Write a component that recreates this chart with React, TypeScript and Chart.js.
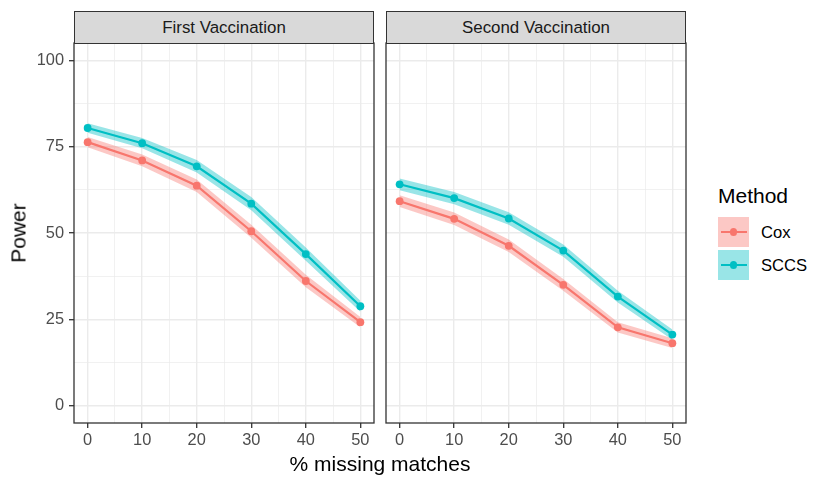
import React, { useEffect, useRef } from "react";
import { Chart, registerables } from "chart.js";

Chart.register(...registerables);

// ---- data ----
const missing = [0, 10, 20, 30, 40, 50];
const panelTitles = ["First Vaccination", "Second Vaccination"];
const methods = ["Cox", "SCCS"];

const coxFirst = [76.3, 71.0, 63.7, 50.5, 36.1, 24.2];
const coxFirstLo = [74.8, 69.3, 61.9, 48.6, 34.3, 22.7];
const coxFirstHi = [77.8, 72.7, 65.5, 52.4, 37.9, 25.7];

const sccsFirst = [80.4, 76.0, 69.3, 58.5, 43.9, 28.8];
const sccsFirstLo = [79.0, 74.5, 67.5, 56.6, 42.0, 27.2];
const sccsFirstHi = [81.8, 77.5, 71.1, 60.4, 45.8, 30.4];

const coxSecond = [59.2, 54.1, 46.3, 35.0, 22.7, 18.1];
const coxSecondLo = [57.5, 52.3, 44.5, 33.3, 21.2, 16.7];
const coxSecondHi = [60.9, 55.9, 48.1, 36.7, 24.2, 19.5];

const sccsSecond = [64.1, 60.1, 54.2, 44.9, 31.6, 20.6];
const sccsSecondLo = [62.4, 58.3, 52.4, 43.1, 29.9, 19.1];
const sccsSecondHi = [65.8, 61.9, 56.0, 46.7, 33.3, 22.1];

const xTicks = [0, 5, 10, 15, 20, 25, 30, 35, 40, 45, 50];
const xMajor = [0, 10, 20, 30, 40, 50];
const yTicks = [0, 12.5, 25, 37.5, 50, 62.5, 75, 87.5, 100];
const yMajor = [0, 25, 50, 75, 100];

const COX = "#F8766D";
const SCCS = "#00BFC4";
const COX_FILL = "rgba(248,118,109,0.4)";
const SCCS_FILL = "rgba(0,191,196,0.4)";
const FONT = "'Liberation Sans', Arial, Helvetica, sans-serif";

type Series = { vals: number[]; lo: number[]; hi: number[] };

function pts(v: number[]) {
  return missing.map((x, i) => ({ x, y: v[i] }));
}

function buildDatasets(cox: Series, sccs: Series) {
  return [
    {
      label: methods[0],
      data: pts(cox.vals),
      borderColor: COX,
      backgroundColor: COX,
      borderWidth: 2.2,
      pointRadius: 3.9,
      pointBorderWidth: 0,
      pointBackgroundColor: COX,
      fill: false,
      tension: 0,
      order: 0,
    },
    {
      label: methods[1],
      data: pts(sccs.vals),
      borderColor: SCCS,
      backgroundColor: SCCS,
      borderWidth: 2.2,
      pointRadius: 3.9,
      pointBorderWidth: 0,
      pointBackgroundColor: SCCS,
      fill: false,
      tension: 0,
      order: 1,
    },
    {
      label: "cox hi",
      data: pts(cox.hi),
      borderWidth: 0,
      borderColor: "rgba(0,0,0,0)",
      pointRadius: 0,
      backgroundColor: COX_FILL,
      fill: "+1",
      tension: 0,
      order: 5,
    },
    {
      label: "cox lo",
      data: pts(cox.lo),
      borderWidth: 0,
      borderColor: "rgba(0,0,0,0)",
      pointRadius: 0,
      fill: false,
      tension: 0,
      order: 5,
    },
    {
      label: "sccs hi",
      data: pts(sccs.hi),
      borderWidth: 0,
      borderColor: "rgba(0,0,0,0)",
      pointRadius: 0,
      backgroundColor: SCCS_FILL,
      fill: "+1",
      tension: 0,
      order: 4,
    },
    {
      label: "sccs lo",
      data: pts(sccs.lo),
      borderWidth: 0,
      borderColor: "rgba(0,0,0,0)",
      pointRadius: 0,
      fill: false,
      tension: 0,
      order: 4,
    },
  ];
}

const framePlugin = {
  id: "frame",
  afterDatasetsDraw(chart: any) {
    const { ctx, chartArea } = chart;
    ctx.save();
    ctx.strokeStyle = "#333333";
    ctx.lineWidth = 1.3;
    ctx.strokeRect(
      chartArea.left,
      chartArea.top,
      chartArea.right - chartArea.left,
      chartArea.bottom - chartArea.top
    );
    ctx.restore();
  },
};

function makeOptions(showY: boolean): any {
  return {
    responsive: false,
    animation: false,
    layout: {
      padding: { left: showY ? 0 : 6, right: showY ? 6 : 14, top: 43, bottom: 0 },
    },
    plugins: { legend: { display: false }, tooltip: { enabled: false } },
    scales: {
      x: {
        type: "linear",
        min: -2.5,
        max: 52.5,
        afterBuildTicks: (s: any) => {
          s.ticks = xTicks.map((v) => ({ value: v }));
        },
        afterFit: (s: any) => {
          s.height = 62;
        },
        border: { display: false },
        grid: {
          color: "#EBEBEB",
          lineWidth: (c: any) => (c.tick && xMajor.includes(c.tick.value) ? 1.4 : 0.7),
          tickColor: (c: any) =>
            c.tick && xMajor.includes(c.tick.value) ? "#333333" : "rgba(0,0,0,0)",
          tickLength: 5,
          tickWidth: 1.3,
        },
        ticks: {
          autoSkip: false,
          maxRotation: 0,
          padding: 3,
          color: "#4D4D4D",
          font: { family: FONT, size: 16.4 },
          callback: (v: any) => (xMajor.includes(v) ? String(v) : ""),
        },
      },
      y: {
        type: "linear",
        min: -5,
        max: 105,
        afterBuildTicks: (s: any) => {
          s.ticks = yTicks.map((v) => ({ value: v }));
        },
        afterFit: (s: any) => {
          s.width = showY ? 74 : 0;
        },
        border: { display: false },
        grid: {
          color: "#EBEBEB",
          lineWidth: (c: any) => (c.tick && yMajor.includes(c.tick.value) ? 1.4 : 0.7),
          tickColor: (c: any) =>
            c.tick && yMajor.includes(c.tick.value) ? "#333333" : "rgba(0,0,0,0)",
          tickLength: 5,
          tickWidth: 1.3,
          drawTicks: showY,
        },
        ticks: {
          display: showY,
          autoSkip: false,
          padding: 5,
          color: "#4D4D4D",
          font: { family: FONT, size: 16.4 },
          callback: (v: any) => (yMajor.includes(v) ? String(v) : ""),
        },
      },
    },
  };
}

function Panel(props: {
  left: number;
  width: number;
  showY: boolean;
  cox: Series;
  sccs: Series;
}) {
  const ref = useRef<HTMLCanvasElement | null>(null);
  useEffect(() => {
    if (!ref.current) return;
    const chart = new Chart(ref.current, {
      type: "line",
      data: { datasets: buildDatasets(props.cox, props.sccs) as any },
      options: makeOptions(props.showY),
      plugins: [framePlugin],
    });
    return () => chart.destroy();
  }, []);
  return (
    <canvas
      ref={ref}
      width={props.width}
      height={485}
      style={{
        position: "absolute",
        left: props.left,
        top: 0,
        width: props.width,
        height: 485,
      }}
    />
  );
}

function Strip(props: { left: number; text: string }) {
  return (
    <div
      style={{
        position: "absolute",
        left: props.left,
        top: 11,
        width: 300,
        height: 32.5,
        boxSizing: "border-box",
        background: "#D9D9D9",
        border: "1.3px solid #333333",
        display: "flex",
        alignItems: "center",
        justifyContent: "center",
        paddingTop: 1,
        fontFamily: FONT,
        fontSize: 16.9,
        color: "#1A1A1A",
      }}
    >
      {props.text}
    </div>
  );
}

function LegendKey(props: { top: number; color: string; fill: string; label: string }) {
  return (
    <>
      <div
        style={{
          position: "absolute",
          left: 718,
          top: props.top,
          width: 31,
          height: 30,
          background: props.fill,
        }}
      >
        <div
          style={{
            position: "absolute",
            left: 2.5,
            right: 2.5,
            top: 13.9,
            height: 2.2,
            background: props.color,
          }}
        />
        <div
          style={{
            position: "absolute",
            left: 15.5 - 3.9,
            top: 15 - 3.9,
            width: 7.8,
            height: 7.8,
            borderRadius: "50%",
            background: props.color,
          }}
        />
      </div>
      <div
        style={{
          position: "absolute",
          left: 761,
          top: props.top + 15,
          transform: "translateY(-50%)",
          fontFamily: FONT,
          fontSize: 16.6,
          lineHeight: "17px",
          color: "#000000",
          whiteSpace: "nowrap",
        }}
      >
        {props.label}
      </div>
    </>
  );
}

export default function App() {
  return (
    <div
      style={{
        position: "fixed",
        left: 0,
        top: 0,
        width: 830,
        height: 485,
        background: "#FFFFFF",
        overflow: "hidden",
      }}
    >
      <Panel
        left={0}
        width={380}
        showY={true}
        cox={{ vals: coxFirst, lo: coxFirstLo, hi: coxFirstHi }}
        sccs={{ vals: sccsFirst, lo: sccsFirstLo, hi: sccsFirstHi }}
      />
      <Panel
        left={380}
        width={320}
        showY={false}
        cox={{ vals: coxSecond, lo: coxSecondLo, hi: coxSecondHi }}
        sccs={{ vals: sccsSecond, lo: sccsSecondLo, hi: sccsSecondHi }}
      />
      <Strip left={74} text={panelTitles[0]} />
      <Strip left={386} text={panelTitles[1]} />
      <div
        style={{
          position: "absolute",
          left: 18,
          top: 233,
          transform: "translate(-50%, -50%) rotate(-90deg)",
          fontFamily: FONT,
          fontSize: 21,
          lineHeight: "21px",
          color: "#000000",
          whiteSpace: "nowrap",
        }}
      >
        Power
      </div>
      <div
        style={{
          position: "absolute",
          left: 380,
          top: 463,
          transform: "translate(-50%, -50%)",
          fontFamily: FONT,
          fontSize: 21,
          lineHeight: "21px",
          color: "#000000",
          whiteSpace: "nowrap",
        }}
      >
        % missing matches
      </div>
      <div
        style={{
          position: "absolute",
          left: 718,
          top: 184.5,
          fontFamily: FONT,
          fontSize: 21,
          lineHeight: "21px",
          color: "#000000",
          whiteSpace: "nowrap",
        }}
      >
        Method
      </div>
      <LegendKey top={217} color={COX} fill={COX_FILL} label={methods[0]} />
      <LegendKey top={250} color={SCCS} fill={SCCS_FILL} label={methods[1]} />
    </div>
  );
}
